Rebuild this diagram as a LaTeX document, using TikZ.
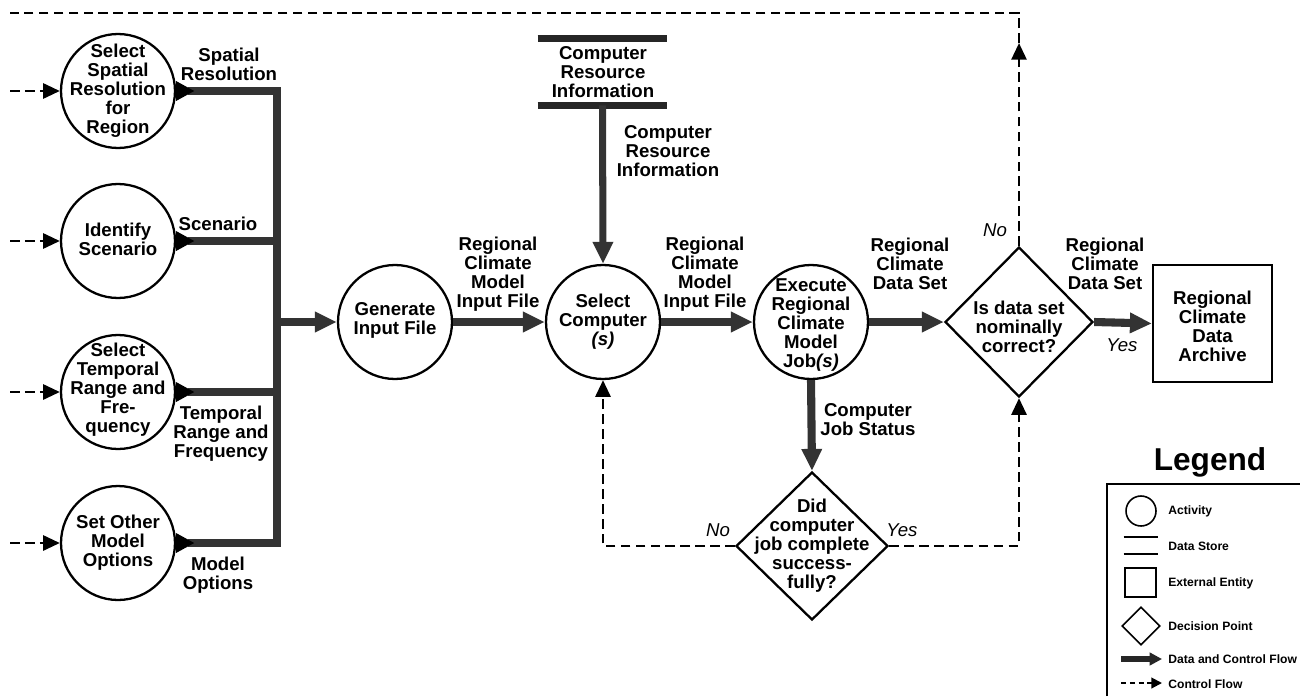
\documentclass[tikz,border=0pt]{standalone}
\usepackage{fontspec}
\setmainfont{Liberation Sans}
\usetikzlibrary{arrows.meta,shapes.geometric}
\begin{document}
\begin{tikzpicture}[x=0.02cm,y=-0.02cm,
 activity/.style={circle,draw,line width=1.3pt,minimum size=2.28cm,inner sep=0pt},
 txt/.style={align=center,font=\fontsize{10.6}{10.8}\selectfont\bfseries,inner sep=0pt},
 itl/.style={font=\fontsize{10.6}{10.8}\selectfont\itshape,inner sep=0pt},
 decision/.style={diamond,draw,line width=1.3pt,inner sep=0pt},
 flow/.style={draw=black!80,line width=4.6pt,line join=miter},
 fhead/.style={-{Triangle[length=12.5pt,width=11pt]}},
 ohead/.style={{Triangle[reversed,length=10.5pt,width=10.5pt,color=black]}-},
 ctrl/.style={draw=black,line width=1.6pt,dash pattern=on 5.5pt off 3pt},
 chead/.style={-{Triangle[length=9.5pt,width=8.5pt]}},
 lgtxt/.style={anchor=west,font=\fontsize{6.9}{7}\selectfont\bfseries,inner sep=0pt},
]
\useasboundingbox[fill=white] (0,0) rectangle (1300,696);

% activities
\node[activity] (c1) at (118,91) {};
\node[txt] (c1t) at (c1) {Select\\Spatial\\Resolution\\for\\Region};
\node[activity] (c2) at (118,241) {};
\node[txt] (c2t) at (118,239) {Identify\\Scenario};
\node[activity] (c3) at (118,392) {};
\node[txt] (c3t) at (118,390) {Select\\Temporal\\Range and\\Fre-\\quency};
\node[activity] (c4) at (118,543) {};
\node[txt] (c4t) at (c4) {Set Other\\Model\\Options};
\node[activity] (gen) at (395,322) {};
\node[txt] (gent) at (395,320) {Generate\\Input File};
\node[activity] (sel) at (603,322) {};
\node[txt] (selt) at (sel) {Select\\Computer\\\textit{(s)}};
\node[activity] (exe) at (811,322) {};
\node[txt] (exet) at (811,325) {Execute\\Regional\\Climate\\Model\\Job\textit{(s)}};

% decisions
\node[decision,minimum width=2.96cm,minimum height=3.0cm] (d1) at (1019,322) {};
\node[txt] (d1t) at (1019,327) {Is data set\\nominally\\correct?};
\node[decision,minimum width=3.04cm,minimum height=2.96cm] (d2) at (812,546) {};
\node[txt] (d2t) at (d2) {Did\\computer\\job complete\\success-\\fully?};

% external entity
\node[draw,line width=1.3pt,minimum width=2.38cm,minimum height=2.34cm,inner sep=0pt] (arch) at (1212.5,323.5) {};
\node[txt] (archt) at (1212.5,326) {Regional\\Climate\\Data\\Archive};

% data store
\node[minimum width=2.58cm,minimum height=1.33cm,inner sep=0pt] (ds) at (602.5,71.75) {};
\draw[line width=4pt,black!85] (ds.north west) -- (ds.north east);
\draw[line width=4pt,black!85] (ds.south west) -- (ds.south east);
\node[txt] (dst) at (603,72) {Computer\\Resource\\Information};

% bus
\coordinate (b1) at (277,91);
\coordinate (b2) at (277,241);
\coordinate (b3) at (277,392);
\coordinate (b4) at (277,543);
\coordinate (bus) at (277,322);
\draw[flow,ohead] (c1.east) -- (b1) -- (bus);
\draw[flow,ohead] (c4.east) -- (b4) -- (bus);
\draw[flow,ohead] (c2.east) -- (b2);
\draw[flow,ohead] (c3.east) -- (b3);
\draw[flow,fhead] (bus) -- (gen.west);

% main flows
\draw[flow,fhead] (gen.east) -- (sel.west);
\draw[flow,fhead] (sel.east) -- (exe.west);
\draw[flow,fhead] (exe.east) -- (d1.west);
\draw[flow,fhead] (d1.east) -- (arch.west);
\draw[flow,fhead] (exe.south) -- (d2.north);
\draw[flow,line width=4pt,fhead] (ds.south) -- (sel.north);

% control flows in
\coordinate (i1) at (10,91);
\coordinate (i2) at (10,241);
\coordinate (i3) at (10,392);
\coordinate (i4) at (10,543);
\draw[ctrl,chead] (i1) -- (c1.west);
\draw[ctrl,chead] (i2) -- (c2.west);
\draw[ctrl,chead] (i3) -- (c3.west);
\draw[ctrl,chead] (i4) -- (c4.west);

% loops
\coordinate (nl) at (603,546);
\draw[ctrl,chead] (d2.west) -- (nl) -- (sel.south);
\coordinate (yl) at (1019,546);
\draw[ctrl,chead] (d2.east) -- (yl) -- (d1.south);
\coordinate (upA) at (1019,43);
\coordinate (topR) at (1019,13);
\coordinate (topL) at (10,13);
\draw[ctrl,chead] (d1.north) -- (upA);
\draw[ctrl] (upA) -- (topR) -- (topL);

% flow labels
\node[txt] (l1) at (229,64) {Spatial\\Resolution};
\node[txt] (l2) at (218,224) {Scenario};
\node[txt] (l3) at (221,434) {Temporal\\Range and\\Frequency};
\node[txt] (l4) at (218,575) {Model\\Options};
\node[txt] (l5) at (498,274) {Regional\\Climate\\Model\\Input File};
\node[txt] (l6) at (705,274) {Regional\\Climate\\Model\\Input File};
\node[txt] (l7) at (668,151) {Computer\\Resource\\Information};
\node[txt] (l8) at (910,264) {Regional\\Climate\\Data Set};
\node[txt] (l9) at (1105,264) {Regional\\Climate\\Data Set};
\node[txt] (l10) at (868,420) {Computer\\Job Status};
\node[itl] (no1) at (995,230) {No};
\node[itl] (yes1) at (1122,345) {Yes};
\node[itl] (no2) at (718,530) {No};
\node[itl] (yes2) at (902,530) {Yes};

% legend
\node[font=\fontsize{18}{20}\selectfont\bfseries,inner sep=0pt] (lgt) at (1210,462) {Legend};
\coordinate (lgBL) at (1107,696);
\coordinate (lgTL) at (1107,484);
\coordinate (lgTR) at (1300,484);
\draw[line width=1pt] (lgBL) -- (lgTL) -- (lgTR);
\node[circle,draw,line width=0.9pt,minimum size=0.6cm,inner sep=0pt] (lgc) at (1141,511) {};
\node[minimum width=0.68cm,minimum height=0.34cm,inner sep=0pt] (lgd) at (1141,545.5) {};
\draw[line width=1pt] (lgd.north west) -- (lgd.north east);
\draw[line width=1pt] (lgd.south west) -- (lgd.south east);
\node[draw,line width=0.9pt,minimum width=0.62cm,minimum height=0.58cm,inner sep=0pt] (lgs) at (1140.5,582.5) {};
\node[diamond,draw,line width=0.9pt,minimum width=0.76cm,minimum height=0.76cm,inner sep=0pt] (lgdi) at (1141,626) {};
\coordinate (la1) at (1121,659);
\coordinate (la2) at (1162,659);
\draw[draw=black!85,line width=3.4pt,-{Triangle[length=7pt,width=7pt]}] (la1) -- (la2);
\coordinate (lb1) at (1121,683);
\coordinate (lb2) at (1162,683);
\draw[line width=1.1pt,dash pattern=on 3pt off 2pt,-{Triangle[length=6pt,width=6pt]}] (lb1) -- (lb2);
\node[lgtxt] (lt1) at (1168,511) {Activity};
\node[lgtxt] (lt2) at (1168,546) {Data Store};
\node[lgtxt] (lt3) at (1168,583) {External Entity};
\node[lgtxt] (lt4) at (1168,626) {Decision Point};
\node[lgtxt] (lt5) at (1168,659) {Data and Control Flow};
\node[lgtxt] (lt6) at (1168,684) {Control Flow};
\end{tikzpicture}
\end{document}
